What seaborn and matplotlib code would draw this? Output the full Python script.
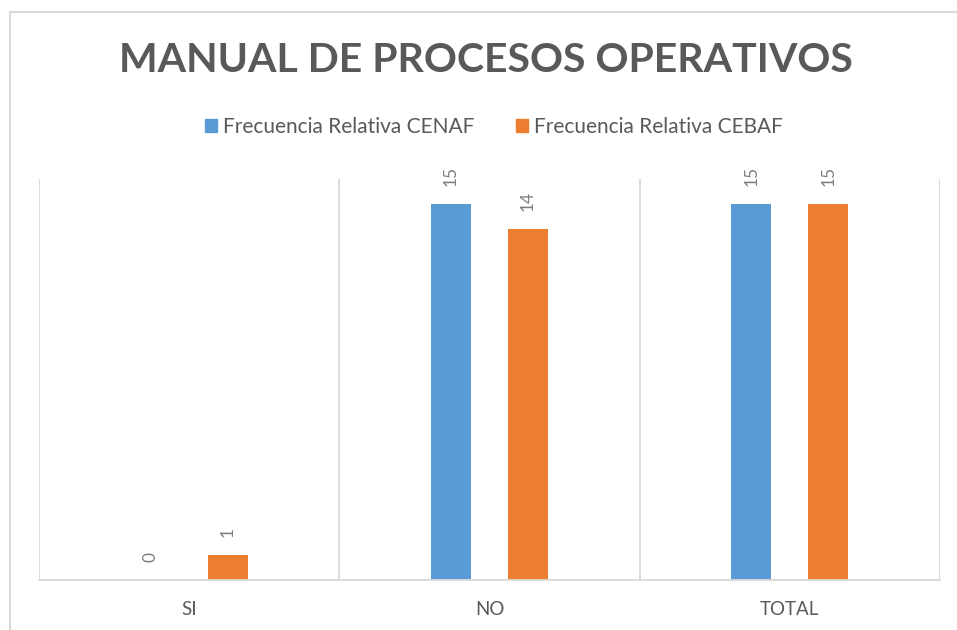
import matplotlib
matplotlib.use("Agg")
import matplotlib.pyplot as plt
import pandas as pd
import seaborn as sns
from matplotlib.patches import Rectangle

# data
categorias = ["SI", "NO", "TOTAL"]
cenaf = [0, 15, 15]
cebaf = [1, 14, 15]
series = ["Frecuencia Relativa CENAF", "Frecuencia Relativa CEBAF"]

df = pd.DataFrame({
    "categoria": categorias * 2,
    "valor": cenaf + cebaf,
    "serie": [series[0]] * 3 + [series[1]] * 3,
})

sns.set_style("white")
plt.rcParams["font.family"] = ["Lato", "DejaVu Sans"]
gris = "#595959"

fig = plt.figure(figsize=(9.57, 6.3), dpi=100)
ax = fig.add_axes([39 / 957, 50 / 630, 901 / 957, 401 / 630])

sns.barplot(data=df, x="categoria", y="valor", hue="serie", order=categorias,
            hue_order=series, palette=["#5B9BD5", "#ED7D31"], width=0.513,
            gap=0.48, ax=ax, legend=False, saturation=1, linewidth=0)

for cont in ax.containers:
    ax.bar_label(cont, padding=13, rotation=90, color="#7f7f7f", fontsize=12.5)

ax.set_ylim(0, 16)
ax.set_xlim(-0.5, 2.5)
ax.set_yticks([])
ax.set_xlabel("")
ax.set_ylabel("")
ax.set_xticks(range(3))
ax.set_xticklabels(categorias, color=gris, fontsize=13.5)
ax.tick_params(axis="x", length=0, pad=15)
ax.set_xticks([-0.5, 0.5, 1.5, 2.5], minor=True)
ax.tick_params(axis="x", which="minor", length=0)
ax.grid(True, which="minor", axis="x", color="#D9D9D9", lw=1.3)
ax.set_axisbelow(True)
for s in ["top", "left", "right"]:
    ax.spines[s].set_visible(False)
ax.spines["bottom"].set_color("#D9D9D9")
ax.spines["bottom"].set_linewidth(1.3)

fig.text(486 / 957, 1 - 61 / 630, "MANUAL DE PROCESOS OPERATIVOS", ha="center",
         va="center", fontsize=29.5, fontweight="bold", color=gris)

handles = [Rectangle((0, 0), 1, 1, color=c) for c in ["#5B9BD5", "#ED7D31"]]
fig.legend(handles, series, loc="center", bbox_to_anchor=(494 / 957, 1 - 127 / 630),
           ncol=2, frameon=False, fontsize=15, handlelength=0.55, handleheight=0.55,
           handletextpad=0.3, columnspacing=2.0, labelcolor=gris)

# chart frame
fig.patches.append(Rectangle((10 / 957, -0.1), 1.2, 1 - 12 / 630 + 0.1,
                             transform=fig.transFigure, fill=False,
                             edgecolor="#D9D9D9", lw=1.5))

fig.savefig("out.png", dpi=100)
